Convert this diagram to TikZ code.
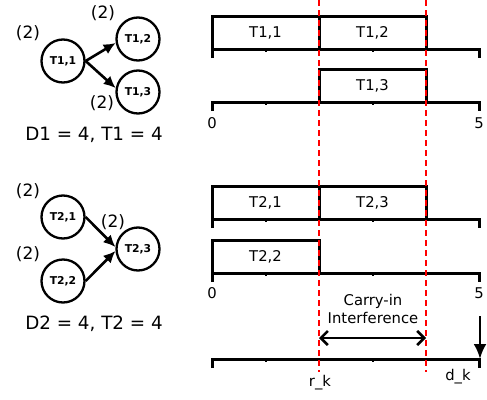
\documentclass[tikz,border=0pt]{standalone}
\usepackage{fontspec}
\setmainfont{DejaVu Sans}
\usetikzlibrary{arrows.meta}
\begin{document}
\begin{tikzpicture}[x=1pt,y=-1pt,
  task/.style={draw, line width=2.3pt, circle, minimum size=43pt, inner sep=0pt, font=\fontsize{10.8}{12}\selectfont\bfseries},
  job/.style={draw, line width=3pt, minimum width=107pt, minimum height=33pt, inner sep=0pt, font=\fontsize{14.8}{17}\selectfont},
  axisline/.style={line width=3pt},
  smalltick/.style={line width=2.5pt},
  lbl/.style={font=\fontsize{14.8}{18}\selectfont, inner sep=0pt},
  wt/.style={font=\fontsize{17}{20}\selectfont, inner sep=0pt},
  params/.style={font=\fontsize{18.3}{20}\selectfont, inner sep=0pt},
  deadline/.style={red, line width=2.8pt, dash pattern=on 6pt off 4pt},
  dep/.style={line width=2.6pt, -{Latex[length=12pt,width=11pt]}},
  span/.style={line width=2.6pt, {Straight Barb[length=7pt,width=14pt]}-{Straight Barb[length=7pt,width=14pt]}},
  down/.style={line width=2.8pt, -{Latex[length=15pt,width=13pt]}}
]
\useasboundingbox (0,0) rectangle (487,399);

% ---------- DAG 1 ----------
\node[task] (t11) at (63,61) {T1,1};
\node[task] (t12) at (138,39) {T1,2};
\node[task] (t13) at (138,92) {T1,3};
\draw[dep] (t11.east) -- (t12.190);
\draw[dep] (t11.east) -- (t13.170);
\node[wt] (w11) at (28,33) {(2)};
\node[wt] (w12) at (103,13) {(2)};
\node[wt] (w13) at (102,103) {(2)};
\node[params] (p1) at (94,135) {D1 = 4, T1 = 4};

% ---------- DAG 2 ----------
\node[task] (t21) at (63,217) {T2,1};
\node[task] (t22) at (63,281) {T2,2};
\node[task] (t23) at (138,249) {T2,3};
\draw[dep] (t21.east) -- (t23.175);
\draw[dep] (t22.east) -- (t23.185);
\node[wt] (w21) at (28,191) {(2)};
\node[wt] (w22) at (28,254) {(2)};
\node[wt] (w23) at (113,222) {(2)};
\node[params] (p2) at (94,324) {D2 = 4, T2 = 4};

% ---------- time axes ----------
\foreach \y in {49,102,219,273,359} {
  \draw[axisline] (212,\y+9) -- (212,\y) -- (479,\y) -- (479,\y+9);
  \foreach \x in {266,319,373,426} \draw[smalltick] (\x,\y) -- (\x,\y+3);
}
\draw[axisline] (212,49) -- (212,16);
\draw[axisline] (212,273) -- (212,240);

% ---------- jobs ----------
\node[job] (j11) at (265.5,32.5) {T1,1};
\node[job] (j12) at (372.5,32.5) {T1,2};
\node[job] (j13) at (372.5,86) {T1,3};
\node[job] (j21) at (265.5,203) {T2,1};
\node[job] (j23) at (372.5,203) {T2,3};
\node[job] (j22) at (265.5,256.5) {T2,2};

% ---------- axis labels ----------
\node[lbl] (z1) at (212,123) {0};
\node[lbl] (f1) at (479,123) {5};
\node[lbl] (z2) at (212,293) {0};
\node[lbl] (f2) at (479,293) {5};

% ---------- release / deadline lines ----------
\coordinate (rtop) at (319,0);
\coordinate (rbot) at (319,372);
\coordinate (ctop) at (426,0);
\coordinate (cbot) at (426,372);
\draw[deadline] (rtop) -- (rbot);
\draw[deadline] (ctop) -- (cbot);

% ---------- carry-in ----------
\node[lbl, align=center] (ci) at (373,309) {Carry-in\\Interference};
\coordinate (ca) at (319,338);
\coordinate (cb) at (426,338);
\draw[span] (ca) -- (cb);

\coordinate (dtop) at (480,316);
\coordinate (dbot) at (480,359);
\draw[down] (dtop) -- (dbot);

\node[lbl] (rk) at (320,383) {r\_k};
\node[lbl] (dk) at (458,377) {d\_k};
\end{tikzpicture}
\end{document}
